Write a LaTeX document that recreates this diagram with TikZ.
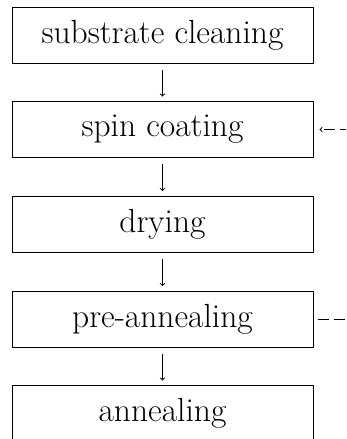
\documentclass[tikz,border=0pt]{standalone}
\usepackage{fontspec}
\begin{document}
\begin{tikzpicture}[x=1pt,y=-1pt,
  stepbox/.style={draw,line width=1pt,minimum width=301pt,minimum height=56pt,inner sep=0pt,
    font=\fontsize{33.5}{40}\selectfont},
  flow/.style={->,line width=1pt,shorten <=6pt,shorten >=4.5pt},
  loop/.style={->,line width=1pt,dash pattern=on 11pt off 5pt,shorten <=4pt,shorten >=6pt}]
\useasboundingbox (0,0) rectangle (346,439);
\clip (0,0) rectangle (346,439);
\node[stepbox] (s1) at (162.5,35) {substrate cleaning};
\node[stepbox] (s2) at (162.5,129.5) {spin coating};
\node[stepbox] (s3) at (162.5,224) {drying};
\node[stepbox] (s4) at (162.5,319) {pre-annealing};
\node[stepbox] (s5) at (162.5,413.5) {annealing};
\draw[flow] (s1) -- (s2);
\draw[flow] (s2) -- (s3);
\draw[flow] (s3) -- (s4);
\draw[flow] (s4) -- (s5);
\coordinate (back) at (383.25,319);
\draw[loop] (s4.east) -- (back) |- (s2.east);
\end{tikzpicture}
\end{document}
